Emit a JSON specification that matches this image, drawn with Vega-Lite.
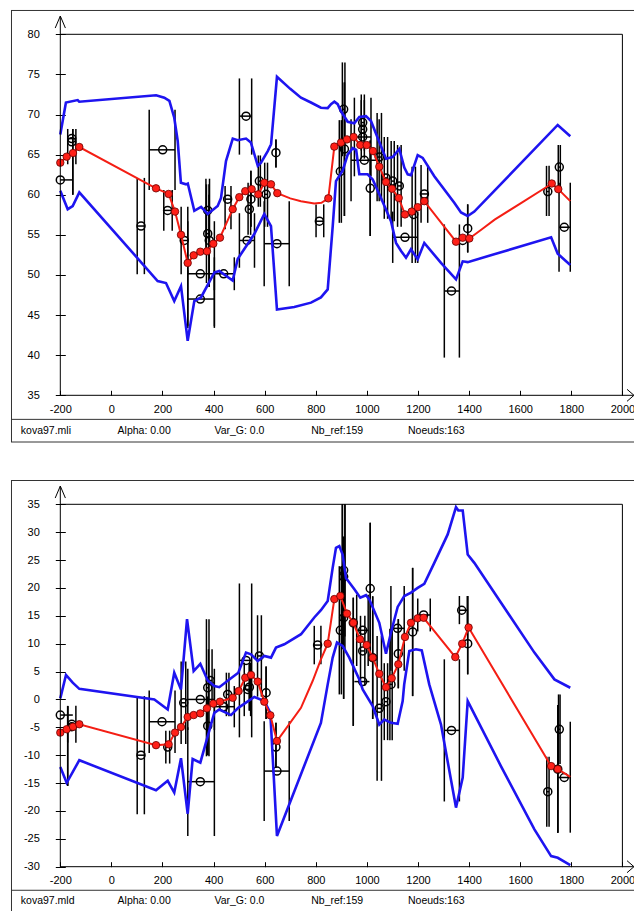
{
 "$schema": "https://vega.github.io/schema/vega-lite/v6.json",
 "padding": {"left": 10, "top": 9, "right": 0, "bottom": 0},
 "background": "white",
 "config": {"view": {"stroke": null}, "font": "Liberation Sans Narrow, Liberation Sans, Arial, sans-serif", "axis": {"labelOverlap": false}},
 "datasets": {
  "obs1": [
   {"x":-200,"y":61.85,"xlo":-200,"xhi":-151,"ylo":61.85,"yhi":61.85},
   {"x":-155,"y":67.0,"xlo":-171,"xhi":-139,"ylo":63.8,"yhi":68.2},
   {"x":-155,"y":66.6,"xlo":-151,"xhi":-151,"ylo":60.0,"yhi":68.2},
   {"x":116,"y":56.1,"xlo":101,"xhi":129,"ylo":50.1,"yhi":62.1},
   {"x":200.8,"y":65.6,"xlo":148,"xhi":249,"ylo":60.6,"yhi":70.6},
   {"x":220,"y":58.05,"xlo":205,"xhi":238,"ylo":55.5,"yhi":60.6},
   {"x":285,"y":54.3,"xlo":273,"xhi":299,"ylo":50.1,"yhi":58.5},
   {"x":348,"y":50.15,"xlo":299,"xhi":403,"ylo":43.6,"yhi":56.7},
   {"x":348,"y":47.0,"xlo":299,"xhi":403,"ylo":43.4,"yhi":50.6},
   {"x":377,"y":58.05,"xlo":370,"xhi":384,"ylo":53.0,"yhi":62.0},
   {"x":377,"y":55.15,"xlo":372,"xhi":382,"ylo":49.0,"yhi":61.3},
   {"x":383,"y":54.3,"xlo":383,"xhi":383,"ylo":48.5,"yhi":60.0},
   {"x":439.5,"y":50.15,"xlo":403,"xhi":481,"ylo":48.1,"yhi":52.2},
   {"x":455,"y":59.45,"xlo":445,"xhi":468,"ylo":55.7,"yhi":61.1},
   {"x":527,"y":69.8,"xlo":501,"xhi":549,"ylo":65.0,"yhi":74.5},
   {"x":531,"y":54.3,"xlo":501,"xhi":560,"ylo":50.9,"yhi":57.7},
   {"x":540,"y":58.2,"xlo":535,"xhi":545,"ylo":55.0,"yhi":61.5},
   {"x":546,"y":59.45,"xlo":546,"xhi":546,"ylo":56.0,"yhi":63.0},
   {"x":579,"y":61.7,"xlo":575,"xhi":583,"ylo":58.5,"yhi":64.9},
   {"x":605.5,"y":60.05,"xlo":600,"xhi":611,"ylo":56.0,"yhi":64.0},
   {"x":644,"y":65.25,"xlo":644,"xhi":644,"ylo":63.4,"yhi":66.9},
   {"x":648,"y":53.9,"xlo":598,"xhi":696,"ylo":48.6,"yhi":59.2},
   {"x":814,"y":56.7,"xlo":801,"xhi":831,"ylo":54.7,"yhi":58.8},
   {"x":896,"y":62.9,"xlo":892,"xhi":900,"ylo":56.5,"yhi":69.3},
   {"x":909,"y":70.65,"xlo":904,"xhi":914,"ylo":64.8,"yhi":76.5},
   {"x":912,"y":65.7,"xlo":912,"xhi":912,"ylo":57.35,"yhi":74.0},
   {"x":983.5,"y":69.0,"xlo":978,"xhi":990,"ylo":65.5,"yhi":72.5},
   {"x":983.5,"y":68.15,"xlo":978,"xhi":990,"ylo":64.5,"yhi":71.8},
   {"x":983.5,"y":67.2,"xlo":951,"xhi":1016,"ylo":62.3,"yhi":72.1},
   {"x":990,"y":64.3,"xlo":938,"xhi":1048,"ylo":59.2,"yhi":69.4},
   {"x":1013,"y":60.8,"xlo":1013,"xhi":1013,"ylo":54.85,"yhi":66.75},
   {"x":1048.5,"y":64.7,"xlo":1040,"xhi":1057,"ylo":59.2,"yhi":70.2},
   {"x":1074.7,"y":62.1,"xlo":1068,"xhi":1081,"ylo":57.0,"yhi":67.2},
   {"x":1101,"y":61.7,"xlo":1095,"xhi":1107,"ylo":56.7,"yhi":66.7},
   {"x":1149,"y":54.7,"xlo":1101,"xhi":1199,"ylo":51.5,"yhi":57.9},
   {"x":1126.8,"y":61.1,"xlo":1120,"xhi":1134,"ylo":56.0,"yhi":66.2},
   {"x":1183,"y":57.55,"xlo":1177,"xhi":1190,"ylo":51.5,"yhi":63.5},
   {"x":1225,"y":60.1,"xlo":1212,"xhi":1238,"ylo":56.5,"yhi":63.7},
   {"x":1331,"y":48.0,"xlo":1303,"xhi":1362,"ylo":39.7,"yhi":56.3},
   {"x":1375,"y":54.3,"xlo":1375,"xhi":1375,"ylo":54.3,"yhi":54.3},
   {"x":1394.5,"y":55.8,"xlo":1394.5,"xhi":1394.5,"ylo":52.8,"yhi":58.8},
   {"x":1708,"y":60.4,"xlo":1703,"xhi":1713,"ylo":57.35,"yhi":63.6},
   {"x":1753,"y":63.45,"xlo":1749,"xhi":1757,"ylo":60.7,"yhi":66.2},
   {"x":1772.5,"y":55.95,"xlo":1752,"xhi":1796,"ylo":50.4,"yhi":61.5}
  ],
  "env1": [
   {"side":"u","x":-200,"y":67.5},{"side":"u","x":-178,"y":71.5},{"side":"u","x":-132,"y":71.8},{"side":"u","x":-126,"y":71.6},{"side":"u","x":175,"y":72.4},{"side":"u","x":207,"y":72.1},{"side":"u","x":227,"y":71.7},{"side":"u","x":246,"y":69.6},{"side":"u","x":259.5,"y":66.7},{"side":"u","x":272,"y":61.5},{"side":"u","x":292,"y":61.3},{"side":"u","x":299,"y":61.4},{"side":"u","x":324.5,"y":58.0},{"side":"u","x":351,"y":58.5},{"side":"u","x":377,"y":57.6},{"side":"u","x":416,"y":58.6},{"side":"u","x":429,"y":59.6},{"side":"u","x":448.5,"y":64.2},{"side":"u","x":475,"y":67.0},{"side":"u","x":494,"y":66.8},{"side":"u","x":527,"y":67.0},{"side":"u","x":546,"y":66.5},{"side":"u","x":573,"y":63.6},{"side":"u","x":585.5,"y":64.0},{"side":"u","x":612,"y":65.45},{"side":"u","x":625,"y":66.3},{"side":"u","x":648,"y":74.7},{"side":"u","x":700,"y":73.2},{"side":"u","x":742,"y":72.1},{"side":"u","x":781,"y":71.5},{"side":"u","x":820,"y":70.85},{"side":"u","x":846.5,"y":70.8},{"side":"u","x":859.5,"y":71.3},{"side":"u","x":872.5,"y":71.6},{"side":"u","x":885.6,"y":71.3},{"side":"u","x":898.6,"y":70.4},{"side":"u","x":924.8,"y":69.1},{"side":"u","x":950.7,"y":68.9},{"side":"u","x":970.3,"y":69.7},{"side":"u","x":996.5,"y":69.8},{"side":"u","x":1016,"y":69.2},{"side":"u","x":1042,"y":67.1},{"side":"u","x":1074.7,"y":64.5},{"side":"u","x":1100.9,"y":64.7},{"side":"u","x":1126.8,"y":65.7},{"side":"u","x":1146.4,"y":63.4},{"side":"u","x":1159.7,"y":62.55},{"side":"u","x":1172.6,"y":62.45},{"side":"u","x":1198.8,"y":64.95},{"side":"u","x":1218.4,"y":64.6},{"side":"u","x":1263.8,"y":62.3},{"side":"u","x":1342,"y":59.0},{"side":"u","x":1368.3,"y":57.8},{"side":"u","x":1394.5,"y":57.35},{"side":"u","x":1420.4,"y":57.9},{"side":"u","x":1746.8,"y":68.7},{"side":"u","x":1796,"y":67.3},
   {"side":"l","x":-200,"y":60.5},{"side":"l","x":-171,"y":58.2},{"side":"l","x":-151.5,"y":58.6},{"side":"l","x":-125.6,"y":60.3},{"side":"l","x":181,"y":49.25},{"side":"l","x":213.7,"y":49.0},{"side":"l","x":246,"y":46.75},{"side":"l","x":272.4,"y":48.6},{"side":"l","x":298.6,"y":41.8},{"side":"l","x":324.5,"y":46.75},{"side":"l","x":350.7,"y":47.2},{"side":"l","x":402.7,"y":50.3},{"side":"l","x":422.3,"y":50.5},{"side":"l","x":474.7,"y":49.3},{"side":"l","x":494.3,"y":52.0},{"side":"l","x":559.3,"y":55.1},{"side":"l","x":598.4,"y":57.6},{"side":"l","x":624.6,"y":56.1},{"side":"l","x":648,"y":45.7},{"side":"l","x":715.8,"y":46.0},{"side":"l","x":781.3,"y":46.55},{"side":"l","x":820,"y":47.2},{"side":"l","x":846.6,"y":48.2},{"side":"l","x":866,"y":56.0},{"side":"l","x":879,"y":61.7},{"side":"l","x":905,"y":63.0},{"side":"l","x":924.8,"y":65.0},{"side":"l","x":944.4,"y":65.8},{"side":"l","x":958,"y":65.6},{"side":"l","x":970.3,"y":62.55},{"side":"l","x":1003,"y":62.55},{"side":"l","x":1022.7,"y":61.9},{"side":"l","x":1055.2,"y":59.6},{"side":"l","x":1094.3,"y":56.7},{"side":"l","x":1114,"y":54.0},{"side":"l","x":1133.8,"y":53.0},{"side":"l","x":1153,"y":52.15},{"side":"l","x":1172.6,"y":53.2},{"side":"l","x":1198.8,"y":51.95},{"side":"l","x":1224.6,"y":54.0},{"side":"l","x":1290,"y":51.5},{"side":"l","x":1348.7,"y":49.45},{"side":"l","x":1375,"y":51.7},{"side":"l","x":1394.5,"y":51.6},{"side":"l","x":1721,"y":54.7},{"side":"l","x":1746.8,"y":52.65},{"side":"l","x":1796,"y":51.25}
  ],
  "mean1": [
   {"x":-200,"y":64.0,"node":true},{"x":-175,"y":64.75,"node":true},{"x":-150.3,"y":65.2,"node":true},{"x":-125.6,"y":65.95,"node":true},{"x":174.6,"y":60.8,"node":true},{"x":224,"y":60.1,"node":true},{"x":249,"y":57.9,"node":true},{"x":272.4,"y":55.0,"node":true},{"x":298.6,"y":51.5,"node":true},{"x":322,"y":52.45,"node":true},{"x":348,"y":52.9,"node":true},{"x":374,"y":52.95,"node":true},{"x":398.8,"y":53.9,"node":true},{"x":425,"y":54.65,"node":true},{"x":474.7,"y":58.2,"node":true},{"x":500.6,"y":59.7,"node":true},{"x":524,"y":60.45,"node":true},{"x":549,"y":60.7,"node":true},{"x":575,"y":60.05,"node":true},{"x":598.4,"y":61.5,"node":true},{"x":624.6,"y":61.3,"node":true},{"x":649.3,"y":60.2,"node":true},{"x":700,"y":59.55,"node":false},{"x":742,"y":59.2,"node":false},{"x":794,"y":58.9,"node":false},{"x":822,"y":59.0,"node":false},{"x":849,"y":59.55,"node":true},{"x":872.5,"y":66.0,"node":true},{"x":898.6,"y":66.5,"node":true},{"x":922,"y":66.9,"node":true},{"x":948,"y":67.2,"node":true},{"x":974,"y":66.2,"node":true},{"x":999,"y":66.2,"node":true},{"x":1023.8,"y":65.45,"node":true},{"x":1048.5,"y":63.5,"node":true},{"x":1074.7,"y":61.6,"node":true},{"x":1098,"y":60.75,"node":true},{"x":1124.5,"y":59.6,"node":true},{"x":1149,"y":57.55,"node":true},{"x":1175.3,"y":57.9,"node":true},{"x":1198.8,"y":58.45,"node":true},{"x":1224.6,"y":59.2,"node":true},{"x":1348.7,"y":54.15,"node":true},{"x":1375,"y":54.65,"node":true},{"x":1400.8,"y":54.55,"node":true},{"x":1450,"y":55.7,"node":false},{"x":1500,"y":56.9,"node":false},{"x":1600,"y":58.9,"node":false},{"x":1700,"y":60.9,"node":false},{"x":1723.5,"y":61.4,"node":true},{"x":1749,"y":60.7,"node":true},{"x":1796,"y":59.2,"node":false}
  ],
  "obs2": [
   {"x":-200,"y":-2.8,"xlo":-200,"xhi":-151,"ylo":-2.8,"yhi":-2.8},
   {"x":-155,"y":-4.45,"xlo":-171,"xhi":-139,"ylo":-7.75,"yhi":-1.15},
   {"x":-155,"y":-4.9,"xlo":-171,"xhi":-171,"ylo":-15.5,"yhi":-1.2},
   {"x":115.8,"y":-10.0,"xlo":101,"xhi":129,"ylo":-20.6,"yhi":0.6},
   {"x":198,"y":-4.0,"xlo":148,"xhi":249,"ylo":-9.6,"yhi":1.6},
   {"x":220.4,"y":-8.55,"xlo":213,"xhi":228,"ylo":-11.5,"yhi":-5.6},
   {"x":283,"y":-0.6,"xlo":273,"xhi":291,"ylo":-8.0,"yhi":6.8},
   {"x":348,"y":0.0,"xlo":299,"xhi":403,"ylo":-5.5,"yhi":5.5},
   {"x":348,"y":-14.75,"xlo":299,"xhi":403,"ylo":-24.5,"yhi":-5.0},
   {"x":377,"y":2.1,"xlo":372,"xhi":382,"ylo":-10.2,"yhi":14.4},
   {"x":377,"y":-4.75,"xlo":377,"xhi":377,"ylo":-10.0,"yhi":0.5},
   {"x":387,"y":3.4,"xlo":380,"xhi":394,"ylo":-1.0,"yhi":9.0},
   {"x":439.5,"y":-1.3,"xlo":403,"xhi":481,"ylo":-5.0,"yhi":2.4},
   {"x":455,"y":0.9,"xlo":450,"xhi":460,"ylo":-3.0,"yhi":4.8},
   {"x":527,"y":7.0,"xlo":501,"xhi":549,"ylo":-6.8,"yhi":20.8},
   {"x":533.5,"y":1.8,"xlo":520,"xhi":545,"ylo":-3.0,"yhi":6.6},
   {"x":540,"y":2.2,"xlo":540,"xhi":540,"ylo":-2.0,"yhi":6.5},
   {"x":579,"y":7.8,"xlo":572,"xhi":587,"ylo":0.5,"yhi":15.1},
   {"x":605.5,"y":1.2,"xlo":605.5,"xhi":605.5,"ylo":-3.5,"yhi":5.9},
   {"x":644,"y":-8.55,"xlo":644,"xhi":644,"ylo":-12.25,"yhi":-4.2},
   {"x":648,"y":-12.85,"xlo":598,"xhi":696,"ylo":-21.8,"yhi":-3.9},
   {"x":807,"y":9.75,"xlo":794,"xhi":820,"ylo":6.3,"yhi":13.2},
   {"x":896,"y":12.4,"xlo":892,"xhi":900,"ylo":0.9,"yhi":23.9},
   {"x":909,"y":23.15,"xlo":904,"xhi":914,"ylo":11.3,"yhi":35.0},
   {"x":909,"y":22.0,"xlo":904,"xhi":914,"ylo":9.0,"yhi":35.0},
   {"x":909,"y":14.65,"xlo":909,"xhi":909,"ylo":0.1,"yhi":29.2},
   {"x":946.7,"y":13.75,"xlo":946.7,"xhi":946.7,"ylo":-4.75,"yhi":18.25},
   {"x":983.5,"y":12.4,"xlo":960,"xhi":1005,"ylo":6.0,"yhi":18.8},
   {"x":983.5,"y":8.7,"xlo":975,"xhi":992,"ylo":2.5,"yhi":15.0},
   {"x":983.5,"y":3.2,"xlo":951,"xhi":1010,"ylo":3.2,"yhi":3.2},
   {"x":1013,"y":19.9,"xlo":1013,"xhi":1013,"ylo":8.1,"yhi":31.7},
   {"x":1022.7,"y":7.5,"xlo":1022.7,"xhi":1022.7,"ylo":-3.5,"yhi":18.5},
   {"x":1048.5,"y":-1.6,"xlo":1040,"xhi":1057,"ylo":-14.6,"yhi":11.4},
   {"x":1074.7,"y":-0.4,"xlo":1068,"xhi":1081,"ylo":-7.3,"yhi":6.5},
   {"x":1094.3,"y":2.7,"xlo":1090,"xhi":1099,"ylo":-7.3,"yhi":12.7},
   {"x":1120,"y":12.75,"xlo":1094,"xhi":1146,"ylo":5.15,"yhi":20.35},
   {"x":1123,"y":8.2,"xlo":1123,"xhi":1123,"ylo":2.0,"yhi":14.4},
   {"x":1179,"y":12.1,"xlo":1179,"xhi":1179,"ylo":0.6,"yhi":23.6},
   {"x":1222,"y":15.15,"xlo":1199,"xhi":1248,"ylo":12.2,"yhi":18.1},
   {"x":1331,"y":-5.55,"xlo":1303,"xhi":1362,"ylo":-18.3,"yhi":7.2},
   {"x":1371,"y":16.0,"xlo":1362,"xhi":1393,"ylo":13.5,"yhi":18.55},
   {"x":1394.5,"y":10.0,"xlo":1394.5,"xhi":1394.5,"ylo":4.5,"yhi":18.55},
   {"x":1708,"y":-16.55,"xlo":1704,"xhi":1713,"ylo":-22.85,"yhi":-10.3},
   {"x":1753,"y":-5.35,"xlo":1750,"xhi":1756,"ylo":-11.6,"yhi":0.9},
   {"x":1747,"y":-12.5,"xlo":1747,"xhi":1747,"ylo":-23.9,"yhi":-1.0},
   {"x":1772.5,"y":-14.0,"xlo":1747,"xhi":1796,"ylo":-23.9,"yhi":-4.0}
  ],
  "env2": [
   {"side":"u","x":-200,"y":0.2},{"side":"u","x":-177.7,"y":4.4},{"side":"u","x":-151.5,"y":3.0},{"side":"u","x":-125.6,"y":1.9},{"side":"u","x":168,"y":0.0},{"side":"u","x":220.4,"y":-1.8},{"side":"u","x":246,"y":4.8},{"side":"u","x":272.4,"y":1.8},{"side":"u","x":296,"y":14.4},{"side":"u","x":322,"y":5.1},{"side":"u","x":348,"y":6.4},{"side":"u","x":377,"y":3.4},{"side":"u","x":403,"y":2.4},{"side":"u","x":422.3,"y":2.2},{"side":"u","x":468,"y":3.8},{"side":"u","x":496.7,"y":4.8},{"side":"u","x":526.8,"y":8.4},{"side":"u","x":546.4,"y":8.1},{"side":"u","x":572.6,"y":6.9},{"side":"u","x":598.4,"y":7.8},{"side":"u","x":624.6,"y":7.5},{"side":"u","x":644.2,"y":9.3},{"side":"u","x":676.7,"y":9.9},{"side":"u","x":742.2,"y":11.7},{"side":"u","x":794,"y":14.7},{"side":"u","x":820,"y":16.0},{"side":"u","x":846.6,"y":17.65},{"side":"u","x":866,"y":23.6},{"side":"u","x":879,"y":27.2},{"side":"u","x":892,"y":27.5},{"side":"u","x":905,"y":26.0},{"side":"u","x":918,"y":21.8},{"side":"u","x":951,"y":19.75},{"side":"u","x":974,"y":18.25},{"side":"u","x":996.5,"y":18.7},{"side":"u","x":1009.5,"y":17.95},{"side":"u","x":1048.5,"y":13.75},{"side":"u","x":1074.7,"y":8.2},{"side":"u","x":1094.3,"y":12.0},{"side":"u","x":1120.4,"y":16.6},{"side":"u","x":1146.4,"y":18.55},{"side":"u","x":1172.6,"y":19.15},{"side":"u","x":1198.8,"y":20.0},{"side":"u","x":1224.6,"y":20.75},{"side":"u","x":1263.8,"y":24.5},{"side":"u","x":1316.2,"y":29.6},{"side":"u","x":1348.7,"y":34.5},{"side":"u","x":1357.8,"y":33.9},{"side":"u","x":1375,"y":33.9},{"side":"u","x":1394.5,"y":26.0},{"side":"u","x":1420.4,"y":24.5},{"side":"u","x":1525,"y":17.35},{"side":"u","x":1655.6,"y":8.4},{"side":"u","x":1733.9,"y":3.6},{"side":"u","x":1796,"y":2.1},
   {"side":"l","x":-200,"y":-12.1},{"side":"l","x":-175,"y":-14.95},{"side":"l","x":-125.6,"y":-10.9},{"side":"l","x":174.6,"y":-16.3},{"side":"l","x":220.4,"y":-14.6},{"side":"l","x":246,"y":-16.7},{"side":"l","x":272.4,"y":-10.55},{"side":"l","x":298.6,"y":-20.5},{"side":"l","x":318,"y":-10.7},{"side":"l","x":348,"y":-11.35},{"side":"l","x":402.7,"y":-2.4},{"side":"l","x":422.3,"y":-1.8},{"side":"l","x":468,"y":-2.8},{"side":"l","x":496.7,"y":-1.5},{"side":"l","x":559.3,"y":0.45},{"side":"l","x":598.4,"y":-0.3},{"side":"l","x":622,"y":-2.4},{"side":"l","x":648,"y":-24.5},{"side":"l","x":820,"y":-4.2},{"side":"l","x":846.6,"y":2.7},{"side":"l","x":866,"y":7.5},{"side":"l","x":883,"y":10.2},{"side":"l","x":905,"y":9.6},{"side":"l","x":931,"y":7.5},{"side":"l","x":970.3,"y":3.6},{"side":"l","x":983.5,"y":1.8},{"side":"l","x":1022.7,"y":-1.2},{"side":"l","x":1048.5,"y":-4.5},{"side":"l","x":1068,"y":-3.6},{"side":"l","x":1094.3,"y":-4.2},{"side":"l","x":1120.4,"y":-4.35},{"side":"l","x":1140,"y":-0.3},{"side":"l","x":1146,"y":2.7},{"side":"l","x":1166,"y":8.7},{"side":"l","x":1192,"y":9.0},{"side":"l","x":1214.7,"y":8.8},{"side":"l","x":1244,"y":2.7},{"side":"l","x":1290,"y":-4.5},{"side":"l","x":1348.7,"y":-19.4},{"side":"l","x":1375,"y":-14.0},{"side":"l","x":1394.5,"y":-0.3},{"side":"l","x":1525,"y":-12.0},{"side":"l","x":1655.6,"y":-23.3},{"side":"l","x":1721,"y":-28.1},{"side":"l","x":1747,"y":-28.4},{"side":"l","x":1796,"y":-29.7}
  ],
  "mean2": [
   {"x":-200,"y":-5.95,"node":true},{"x":-175,"y":-5.35,"node":true},{"x":-150.3,"y":-4.9,"node":true},{"x":-125.6,"y":-4.45,"node":true},{"x":174.6,"y":-8.2,"node":true},{"x":224,"y":-8.05,"node":true},{"x":249,"y":-5.95,"node":true},{"x":272.4,"y":-4.95,"node":true},{"x":298.6,"y":-3.15,"node":true},{"x":322,"y":-2.8,"node":true},{"x":348,"y":-2.5,"node":true},{"x":374,"y":-1.6,"node":true},{"x":398.8,"y":-0.75,"node":true},{"x":425,"y":-0.4,"node":true},{"x":474.7,"y":0.3,"node":true},{"x":498,"y":1.5,"node":true},{"x":524,"y":3.9,"node":true},{"x":546.4,"y":4.4,"node":true},{"x":572.6,"y":3.2,"node":true},{"x":598.4,"y":-0.4,"node":true},{"x":622,"y":-2.85,"node":true},{"x":648,"y":-7.45,"node":true},{"x":677,"y":-5.65,"node":false},{"x":742,"y":-1.5,"node":false},{"x":788,"y":3.35,"node":false},{"x":820,"y":7.2,"node":false},{"x":846.6,"y":10.0,"node":true},{"x":872.5,"y":18.0,"node":true},{"x":896,"y":18.55,"node":true},{"x":922,"y":15.4,"node":true},{"x":946.7,"y":13.75,"node":true},{"x":972.9,"y":10.8,"node":true},{"x":999,"y":9.75,"node":true},{"x":1022.7,"y":7.5,"node":true},{"x":1048.5,"y":4.6,"node":true},{"x":1074.7,"y":2.2,"node":true},{"x":1097,"y":3.8,"node":true},{"x":1123,"y":6.3,"node":true},{"x":1149,"y":11.2,"node":true},{"x":1172.6,"y":13.75,"node":true},{"x":1198.8,"y":14.55,"node":true},{"x":1222,"y":14.65,"node":true},{"x":1346,"y":7.6,"node":true},{"x":1373,"y":10.0,"node":true},{"x":1398,"y":12.9,"node":true},{"x":1721,"y":-11.95,"node":true},{"x":1747,"y":-12.5,"node":true},{"x":1796,"y":-13.9,"node":false}
  ],
  "foot1": [{"label":"kova97.mli"},{"label":"Alpha: 0.00"},{"label":"Var_G: 0.0"},{"label":"Nb_ref:159"},{"label":"Noeuds:163"}],
  "foot2": [{"label":"kova97.mld"},{"label":"Alpha: 0.00"},{"label":"Var_G: 0.0"},{"label":"Nb_ref:159"},{"label":"Noeuds:163"}]
 },
 "spacing": 0,
 "bounds": "flush",
 "vconcat": [
  {
   "width": 624, "height": 409,
   "layer": [
    {"data": {"name": "obs1"}, "mark": {"type": "rule", "color": "#000", "strokeWidth": 1.5},
     "encoding": {
      "x": {"field": "xlo", "type": "quantitative", "title": null, "scale": {"domain": [-392.95, 2049.3], "nice": false, "zero": false},
       "axis": {"values": [-200,0,200,400,600,800,1000,1200,1400,1600,1800,2000], "tickCount": 30, "labelExpr": "'' + datum.value", "title": null, "domain": false, "grid": false, "ticks": true, "tickSize": 5, "tickColor": "#000", "tickWidth": 1, "offset": -28.7, "labelFontSize": 11, "labelColor": "#000", "labelPadding": 8, "labelFlush": false, "labelOverlap": false, "labelBound": false}},
      "x2": {"field": "xhi"},
      "y": {"field": "y", "type": "quantitative", "title": null, "scale": {"domain": [32.046, 83.03], "nice": false, "zero": false},
       "axis": {"values": [35,40,45,50,55,60,65,70,75,80], "tickCount": 30, "labelExpr": "'' + datum.value", "title": null, "domain": false, "grid": false, "ticks": true, "tickSize": 10, "tickColor": "#000", "tickWidth": 1, "offset": -54.3, "labelFontSize": 11, "labelColor": "#000", "labelPadding": 16, "labelFlush": false, "labelOverlap": false, "labelBound": false}}
     }},
    {"data": {"name": "obs1"}, "mark": {"type": "rule", "color": "#000", "strokeWidth": 1.5},
     "encoding": {"x": {"field": "xlo", "type": "quantitative", "title": null}, "y": {"field": "ylo", "type": "quantitative", "title": null}, "y2": {"field": "yhi"}}},
    {"data": {"name": "obs1"}, "mark": {"type": "rule", "color": "#000", "strokeWidth": 1.5},
     "encoding": {"x": {"field": "xhi", "type": "quantitative", "title": null}, "y": {"field": "ylo", "type": "quantitative", "title": null}, "y2": {"field": "yhi"}}},
    {"data": {"name": "obs1"}, "mark": {"type": "point", "shape": "circle", "filled": false, "stroke": "#000", "strokeWidth": 1.5, "size": 64, "opacity": 1},
     "encoding": {"x": {"field": "x", "type": "quantitative", "title": null}, "y": {"field": "y", "type": "quantitative", "title": null}}},
    {"data": {"name": "env1"}, "mark": {"type": "line", "color": "#1e14f0", "strokeWidth": 2.6},
     "encoding": {"x": {"field": "x", "type": "quantitative", "title": null}, "y": {"field": "y", "type": "quantitative", "title": null}, "detail": {"field": "side"}}},
    {"data": {"name": "mean1"}, "mark": {"type": "line", "color": "#f41e14", "strokeWidth": 2},
     "encoding": {"x": {"field": "x", "type": "quantitative", "title": null}, "y": {"field": "y", "type": "quantitative", "title": null}}},
    {"data": {"name": "mean1"}, "transform": [{"filter": "datum.node"}], "mark": {"type": "circle", "size": 56, "fill": "#ff2018", "stroke": "#6a0000", "strokeWidth": 0.8, "opacity": 1},
     "encoding": {"x": {"field": "x", "type": "quantitative", "title": null}, "y": {"field": "y", "type": "quantitative", "title": null}}},
    {"data": {"values": [{}]}, "mark": {"type": "rule", "color": "#000", "strokeWidth": 1}, "encoding": {"x": {"datum": -200}, "x2": {"datum": 2000}, "y": {"datum": 80}}},
    {"data": {"values": [{}]}, "mark": {"type": "rule", "color": "#000", "strokeWidth": 1}, "encoding": {"x": {"datum": 2000}, "y": {"datum": 35}, "y2": {"datum": 80}}},
    {"data": {"values": [{}]}, "mark": {"type": "rule", "color": "#000", "strokeWidth": 1}, "encoding": {"x": {"datum": -200}, "y": {"datum": 35}, "y2": {"datum": 82.28}}},
    {"data": {"values": [{}]}, "mark": {"type": "rule", "color": "#000", "strokeWidth": 1}, "encoding": {"x": {"datum": -200}, "x2": {"datum": 2043}, "y": {"datum": 35}}},
    {"data": {"values": [{}]}, "mark": {"type": "point", "shape": "M-0.85,1L0,-1L0.85,1", "filled": false, "stroke": "#000", "strokeWidth": 1, "size": 144, "opacity": 1}, "encoding": {"x": {"datum": -200}, "y": {"datum": 81.53}}},
    {"data": {"values": [{}]}, "mark": {"type": "point", "shape": "M-0.58,-1L0.58,0L-0.58,1", "filled": false, "stroke": "#000", "strokeWidth": 1, "size": 144, "opacity": 1}, "encoding": {"x": {"datum": 2031.7}, "y": {"datum": 35}}},
    {"data": {"values": [{}]}, "mark": {"type": "rule", "color": "#333", "strokeWidth": 1}, "encoding": {"x": {"datum": -391.0}}},
    {"data": {"values": [{}]}, "mark": {"type": "rule", "color": "#333", "strokeWidth": 1}, "encoding": {"y": {"datum": 82.97}}},
    {"data": {"values": [{}]}, "mark": {"type": "rule", "color": "#333", "strokeWidth": 1}, "encoding": {"y": {"datum": 32.0}}}
   ]
  },
  {
   "width": 624, "height": 23,
   "resolve": {"scale": {"x": "independent"}},
   "layer": [
    {"data": {"name": "foot1"}, "mark": {"type": "text", "align": "left", "baseline": "middle", "fontSize": 10.5, "color": "#000"},
     "encoding": {"x": {"field": "label", "type": "nominal", "sort": null, "scale": {"type": "point", "domain": ["kova97.mli", "Alpha: 0.00", "Var_G: 0.0", "Nb_ref:159", "Noeuds:163", " "], "padding": 0.723, "align": 0.07}, "axis": null}, "text": {"field": "label"}}},
    {"data": {"values": [{}]}, "mark": {"type": "rule", "color": "#333", "strokeWidth": 1}, "encoding": {"y": {"datum": 0, "type": "quantitative", "scale": {"domain": [0, 1]}, "axis": null}}},
    {"data": {"values": [{}]}, "mark": {"type": "rule", "color": "#333", "strokeWidth": 1}, "encoding": {"x": {"datum": 0.0008, "type": "quantitative", "scale": {"domain": [0, 1]}, "axis": null}}}
   ]
  },
  {
   "width": 624, "height": 38,
   "data": {"values": [{}]},
   "mark": {"type": "text"},
   "encoding": {"text": {"value": ""}}
  },
  {
   "width": 624, "height": 410,
   "layer": [
    {"data": {"name": "obs2"}, "mark": {"type": "rule", "color": "#000", "strokeWidth": 1.5},
     "encoding": {
      "x": {"field": "xlo", "type": "quantitative", "title": null, "scale": {"domain": [-392.95, 2049.3], "nice": false, "zero": false},
       "axis": {"values": [-200,0,200,400,600,800,1000,1200,1400,1600,1800,2000], "tickCount": 30, "labelExpr": "'' + datum.value", "title": null, "domain": false, "grid": false, "ticks": true, "tickSize": 5, "tickColor": "#000", "tickWidth": 1, "offset": -28.3, "labelFontSize": 11, "labelColor": "#000", "labelPadding": 8, "labelFlush": false, "labelOverlap": false, "labelBound": false}},
      "x2": {"field": "xhi"},
      "y": {"field": "y", "type": "quantitative", "title": null, "scale": {"domain": [-34.18, 39.36], "nice": false, "zero": false},
       "axis": {"values": [-30,-25,-20,-15,-10,-5,0,5,10,15,20,25,30,35], "tickCount": 30, "labelExpr": "'' + datum.value", "title": null, "domain": false, "grid": false, "ticks": true, "tickSize": 10, "tickColor": "#000", "tickWidth": 1, "offset": -54.3, "labelFontSize": 11, "labelColor": "#000", "labelPadding": 16, "labelFlush": false, "labelOverlap": false, "labelBound": false}}
     }},
    {"data": {"name": "obs2"}, "mark": {"type": "rule", "color": "#000", "strokeWidth": 1.5},
     "encoding": {"x": {"field": "xlo", "type": "quantitative", "title": null}, "y": {"field": "ylo", "type": "quantitative", "title": null}, "y2": {"field": "yhi"}}},
    {"data": {"name": "obs2"}, "mark": {"type": "rule", "color": "#000", "strokeWidth": 1.5},
     "encoding": {"x": {"field": "xhi", "type": "quantitative", "title": null}, "y": {"field": "ylo", "type": "quantitative", "title": null}, "y2": {"field": "yhi"}}},
    {"data": {"name": "obs2"}, "mark": {"type": "point", "shape": "circle", "filled": false, "stroke": "#000", "strokeWidth": 1.5, "size": 64, "opacity": 1},
     "encoding": {"x": {"field": "x", "type": "quantitative", "title": null}, "y": {"field": "y", "type": "quantitative", "title": null}}},
    {"data": {"name": "env2"}, "mark": {"type": "line", "color": "#1e14f0", "strokeWidth": 2.6},
     "encoding": {"x": {"field": "x", "type": "quantitative", "title": null}, "y": {"field": "y", "type": "quantitative", "title": null}, "detail": {"field": "side"}}},
    {"data": {"name": "mean2"}, "mark": {"type": "line", "color": "#f41e14", "strokeWidth": 2},
     "encoding": {"x": {"field": "x", "type": "quantitative", "title": null}, "y": {"field": "y", "type": "quantitative", "title": null}}},
    {"data": {"name": "mean2"}, "transform": [{"filter": "datum.node"}], "mark": {"type": "circle", "size": 56, "fill": "#ff2018", "stroke": "#6a0000", "strokeWidth": 0.8, "opacity": 1},
     "encoding": {"x": {"field": "x", "type": "quantitative", "title": null}, "y": {"field": "y", "type": "quantitative", "title": null}}},
    {"data": {"values": [{}]}, "mark": {"type": "rule", "color": "#000", "strokeWidth": 1}, "encoding": {"x": {"datum": -200}, "x2": {"datum": 2000}, "y": {"datum": 35}}},
    {"data": {"values": [{}]}, "mark": {"type": "rule", "color": "#000", "strokeWidth": 1}, "encoding": {"x": {"datum": 2000}, "y": {"datum": -30}, "y2": {"datum": 35}}},
    {"data": {"values": [{}]}, "mark": {"type": "rule", "color": "#000", "strokeWidth": 1}, "encoding": {"x": {"datum": -200}, "y": {"datum": -30}, "y2": {"datum": 38.28}}},
    {"data": {"values": [{}]}, "mark": {"type": "rule", "color": "#000", "strokeWidth": 1}, "encoding": {"x": {"datum": -200}, "x2": {"datum": 2043}, "y": {"datum": -30}}},
    {"data": {"values": [{}]}, "mark": {"type": "point", "shape": "M-0.85,1L0,-1L0.85,1", "filled": false, "stroke": "#000", "strokeWidth": 1, "size": 144, "opacity": 1}, "encoding": {"x": {"datum": -200}, "y": {"datum": 37.2}}},
    {"data": {"values": [{}]}, "mark": {"type": "point", "shape": "M-0.58,-1L0.58,0L-0.58,1", "filled": false, "stroke": "#000", "strokeWidth": 1, "size": 144, "opacity": 1}, "encoding": {"x": {"datum": 2031.7}, "y": {"datum": -30}}},
    {"data": {"values": [{}]}, "mark": {"type": "rule", "color": "#333", "strokeWidth": 1}, "encoding": {"x": {"datum": -391.0}}},
    {"data": {"values": [{}]}, "mark": {"type": "rule", "color": "#333", "strokeWidth": 1}, "encoding": {"y": {"datum": 39.27}}},
    {"data": {"values": [{}]}, "mark": {"type": "rule", "color": "#333", "strokeWidth": 1}, "encoding": {"y": {"datum": -34.23}}}
   ]
  },
  {
   "width": 624, "height": 22,
   "resolve": {"scale": {"x": "independent"}},
   "layer": [
    {"data": {"name": "foot2"}, "mark": {"type": "text", "align": "left", "baseline": "middle", "fontSize": 10.5, "color": "#000"},
     "encoding": {"x": {"field": "label", "type": "nominal", "sort": null, "scale": {"type": "point", "domain": ["kova97.mld", "Alpha: 0.00", "Var_G: 0.0", "Nb_ref:159", "Noeuds:163", " "], "padding": 0.723, "align": 0.07}, "axis": null}, "text": {"field": "label"}}},
    {"data": {"values": [{}]}, "mark": {"type": "rule", "color": "#333", "strokeWidth": 1}, "encoding": {"x": {"datum": 0.0008, "type": "quantitative", "scale": {"domain": [0, 1]}, "axis": null}}}
   ]
  }
 ]
}
